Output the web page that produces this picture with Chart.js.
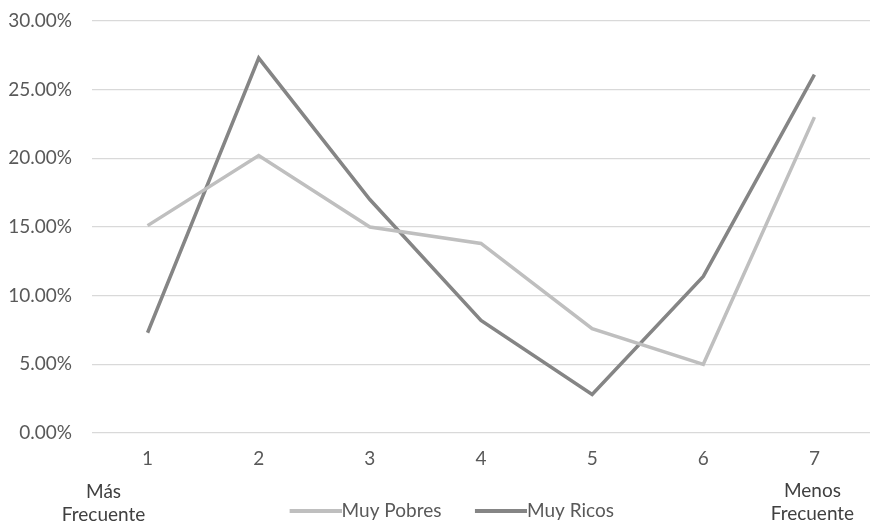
<!DOCTYPE html>
<html>
<head>
<meta charset="utf-8">
<script src="https://cdn.jsdelivr.net/npm/chart.js@4"></script>
<style>
  html, body { margin: 0; padding: 0; background: #fff; }
  #wrap { width: 873px; height: 526px; }
</style>
</head>
<body>
<div id="wrap"><canvas id="chart"></canvas></div>
<script>
const categories = ["1", "2", "3", "4", "5", "6", "7"];
const muyPobres = [15.1, 20.2, 15.0, 13.8, 7.6, 5.0, 23.0];
const muyRicos = [7.3, 27.3, 17.0, 8.2, 2.8, 11.4, 26.1];
const leftNote = ["Más", "Frecuente"];
const rightNote = ["Menos", "Frecuente"];

const fontFamily = "Lato, 'Open Sans', sans-serif";
const fontSize = 19;

// legend sample: a line that runs right up to the label text
function legendLine(color){
    let c = document.createElement("canvas");
    c.width = 95;
    c.height = 4;
    let g = c.getContext("2d");
    g.fillStyle = color;
    g.fillRect(43, 0, 52, 4);
    return c;
}

// extra text under the first and last category
const endNotes = {
    id: 'endNotes',
    afterDraw(chart){
        const ctx = chart.ctx;
        const x = chart.scales.x;
        ctx.save();
        ctx.font = fontSize + "px " + fontFamily;
        ctx.fillStyle = "#404040";
        ctx.textAlign = "center";
        ctx.textBaseline = "middle";
        let xl = x.getPixelForValue(0) - 44;
        let xr = x.getPixelForValue(categories.length - 1) - 2;
        ctx.fillText(leftNote[0], xl, 492);
        ctx.fillText(leftNote[1], xl, 515);
        ctx.fillText(rightNote[0], xr, 491);
        ctx.fillText(rightNote[1], xr, 514);
        ctx.restore();
    }
};

const chartEl = document.getElementById('chart').getContext("2d");

let chart = new Chart(chartEl, {
    type: 'line',
    data: {
        labels: categories,
        datasets: [
            {label: 'Muy Pobres', data: muyPobres, borderColor: '#bfbfbf', backgroundColor: '#bfbfbf', borderWidth: 3.5, pointRadius: 0, pointStyle: legendLine('#bfbfbf'), tension: 0},
            {label: 'Muy Ricos', data: muyRicos, borderColor: '#858585', backgroundColor: '#858585', borderWidth: 3.5, pointRadius: 0, pointStyle: legendLine('#858585'), tension: 0}
        ]
    },
    options: {
        responsive: true,
        maintainAspectRatio: false,
        animation: false,
        layout: {padding: {top: 21, right: 3, left: 0, bottom: -4.5}},
        plugins: {
            legend: {
                position: 'bottom',
                labels: {
                    usePointStyle: true,
                    pointStyleWidth: 76,
                    padding: 0,
                    color: '#595959',
                    font: {family: fontFamily, size: fontSize}
                }
            },
            tooltip: {enabled: false}
        },
        scales: {
            x: {
                offset: true,
                grid: {display: false, drawTicks: false},
                border: {display: false},
                ticks: {color: '#595959', padding: 14, font: {family: fontFamily, size: fontSize}},
                afterFit: (s) => { s.height = 68.5; }
            },
            y: {
                min: 0,
                max: 30,
                // invisible tick marks keep the labels 20px off the plot
                grid: {color: '#d9d9d9', lineWidth: 1.2, drawTicks: true, tickLength: 20, tickColor: 'rgba(0,0,0,0)'},
                border: {display: false},
                ticks: {
                    stepSize: 5,
                    color: '#595959',
                    padding: 0,
                    font: {family: fontFamily, size: fontSize},
                    callback: (v) => v.toFixed(2) + '%'
                },
                afterFit: (s) => { s.width = 92; }
            }
        }
    },
    plugins: [endNotes]
});
</script>
</body>
</html>
